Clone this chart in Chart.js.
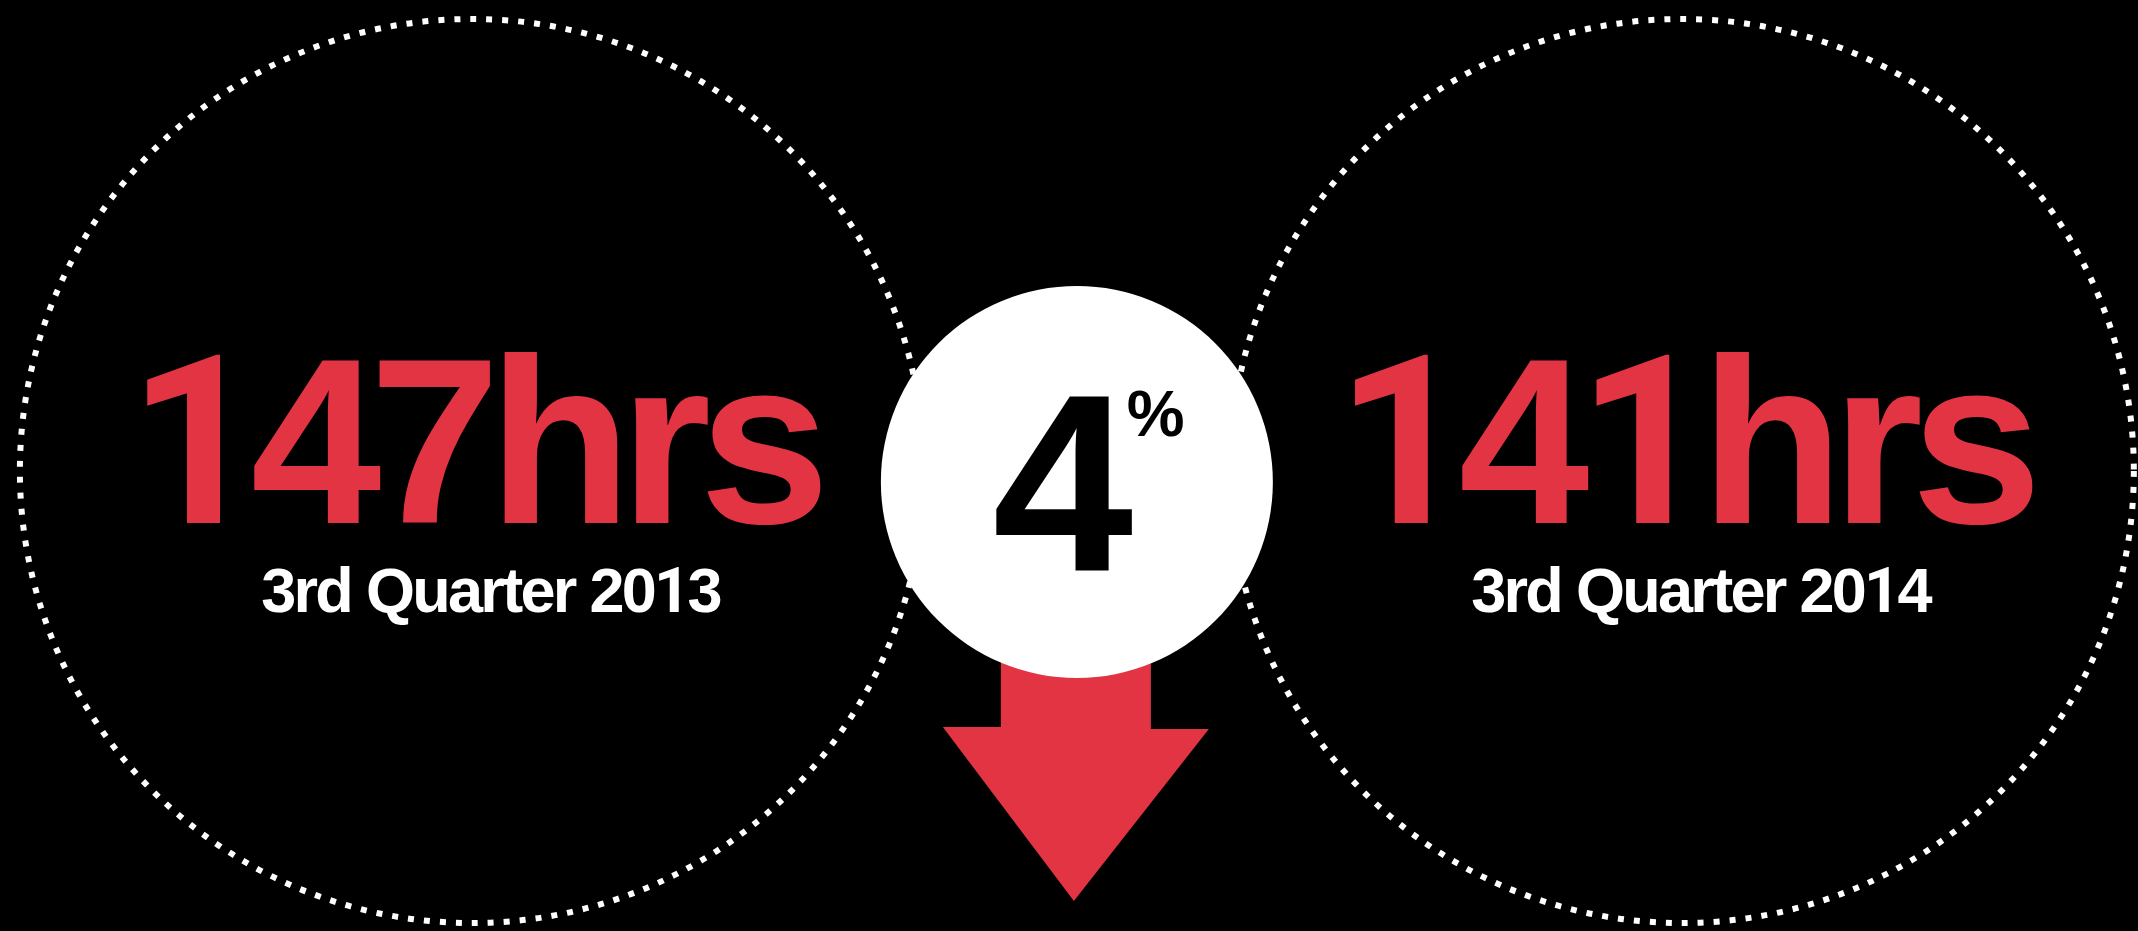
<!DOCTYPE html>
<html>
<head>
<meta charset="utf-8">
<title>Hours per quarter</title>
<script src="https://cdn.jsdelivr.net/npm/chart.js@4.4.1/dist/chart.umd.min.js"></script>
<style>
    html, body { margin: 0; padding: 0; background: #000; overflow: hidden; }
    #wrap { position: relative; width: 2138px; height: 931px; }
</style>
</head>
<body>
<div id="wrap"><canvas id="graficoHoras"></canvas></div>
<script>
const periods = ['3rd Quarter 2013', '3rd Quarter 2014'];
const hours = [147, 141];
const hoursUnit = 'hrs';
const changePercent = [4];

const RED = '#e33444';
const FONT = '"Liberation Sans", Arial, Helvetica, sans-serif';
const FONT_ONE = 'Roboto, "Liberation Sans", sans-serif'; // footless "1"

// draws text glyph by glyph, centred on cx, with tight tracking
function drawTracked(c, text, cx, y, size, spacing) {
    const chars = text.split('');
    const fonts = chars.map(ch => 'bold ' + size + 'px ' + (ch === '1' ? FONT_ONE : FONT));
    const widths = chars.map((ch, i) => { c.font = fonts[i]; return c.measureText(ch).width; });
    const total = widths.reduce((a, b) => a + b, 0) + spacing * (chars.length - 1);
    let x = cx - total / 2;
    c.textAlign = 'left';
    chars.forEach((ch, i) => {
        c.font = fonts[i];
        c.fillText(ch, x, y);
        x += widths[i] + spacing;
    });
}

const infographic = {
    id: 'infographic',
    beforeDatasetsDraw(chart) {
        const c = chart.ctx;
        const quarters = chart.getDatasetMeta(0).data;
        const change = chart.getDatasetMeta(1).data[0];
        c.save();
        // dotted ring round each quarter
        c.strokeStyle = '#fff';
        c.lineWidth = 6;
        c.setLineDash([6, 10]);
        quarters.forEach(pt => {
            c.beginPath();
            c.arc(pt.x, pt.y - 11, 452, 0, Math.PI * 2);
            c.stroke();
        });
        // down arrow, its shaft hidden under the change bubble
        const x = change.x, y = change.y;
        c.setLineDash([]);
        c.fillStyle = RED;
        c.beginPath();
        c.moveTo(x - 76, y);
        c.lineTo(x + 74, y);
        c.lineTo(x + 74, y + 247);
        c.lineTo(x + 132, y + 247);
        c.lineTo(x - 3, y + 419);
        c.lineTo(x - 134, y + 245);
        c.lineTo(x - 76, y + 245);
        c.closePath();
        c.fill();
        c.restore();
    },
    afterDatasetsDraw(chart) {
        const c = chart.ctx;
        const quarters = chart.getDatasetMeta(0).data;
        const change = chart.getDatasetMeta(1).data[0];
        c.save();
        c.textBaseline = 'alphabetic';
        quarters.forEach((pt, i) => {
            const cy = pt.y - 11;
            c.fillStyle = RED;
            drawTracked(c, hours[i] + hoursUnit, pt.x + 7, cy + 52, 235, -12);
            c.fillStyle = '#fff';
            drawTracked(c, periods[i], pt.x + 20, cy + 141, 63, -2.7);
        });
        c.fillStyle = '#000';
        c.font = 'bold 253px ' + FONT;
        c.textAlign = 'center';
        c.fillText(String(changePercent[0]), change.x - 14, change.y + 88);
        c.font = 'bold 65px ' + FONT;
        c.textAlign = 'left';
        c.fillText('%', change.x + 50, change.y - 46);
        c.restore();
    }
};

document.addEventListener('DOMContentLoaded', function () {
    const ctx = document.getElementById('graficoHoras').getContext('2d');
    new Chart(ctx, {
        type: 'scatter',
        data: {
            datasets: [{
                label: 'Quarters',
                data: periods.map((p, i) => ({ x: i * 2, y: 0 })),
                pointRadius: 0
            }, {
                label: 'Change',
                data: changePercent.map(() => ({ x: 1, y: 0 })),
                pointRadius: 196,
                pointBackgroundColor: '#fff',
                pointBorderWidth: 0,
                clip: false
            }]
        },
        options: {
            responsive: true,
            maintainAspectRatio: false,
            animation: false,
            events: [],
            layout: { autoPadding: false, padding: { top: 33 } },
            scales: {
                x: { type: 'linear', min: -0.78, max: 2.754, display: false },
                y: { min: -1, max: 1, display: false }
            },
            plugins: {
                legend: { display: false },
                tooltip: { enabled: false }
            }
        },
        plugins: [infographic]
    });
});
</script>
</body>
</html>
